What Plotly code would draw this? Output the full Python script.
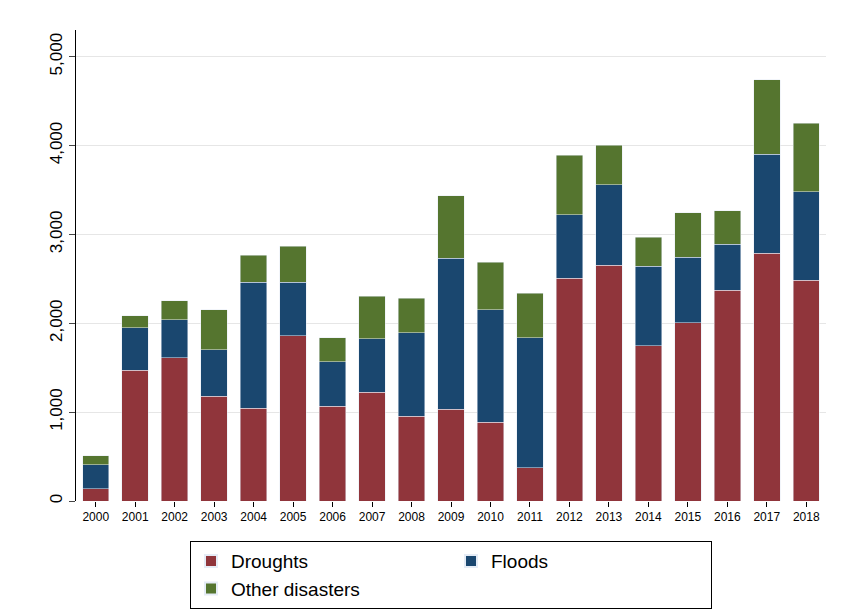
import plotly.graph_objects as go

years = [str(y) for y in range(2000, 2019)]
droughts = [136, 1474, 1610, 1179, 1043, 1859, 1066, 1224, 952, 1032, 884, 374,
            2506, 2653, 1746, 2007, 2370, 2789, 2483]
floods = [272, 476, 431, 521, 1417, 601, 499, 601, 941, 1700, 1270, 1463,
          714, 907, 896, 737, 521, 1111, 998]
other = [102, 136, 215, 454, 306, 408, 272, 477, 386, 703, 533, 499,
         669, 442, 328, 499, 374, 839, 771]

fig = go.Figure()
fig.add_trace(go.Bar(x=years, y=droughts, name="Droughts", marker_color="#90353B"))
fig.add_trace(go.Bar(x=years, y=floods, name="Floods", marker_color="#1A476F"))
fig.add_trace(go.Bar(x=years, y=other, name="Other disasters", marker_color="#55752F"))

fig.update_layout(
    barmode="stack",
    bargap=0.33,
    width=858, height=615,
    paper_bgcolor="white", plot_bgcolor="white",
    margin=dict(l=68, r=40, t=22, b=122),
    font=dict(family="Liberation Sans, Arial", color="black"),
    showlegend=True,
    legend=dict(
        orientation="h", x=0.5, xanchor="center", y=-0.085, yanchor="top",
        bordercolor="black", borderwidth=1, font=dict(size=19),
        entrywidth=215, traceorder="normal", itemsizing="constant",
    ),
    yaxis=dict(
        range=[0, 5300], tickvals=[0, 1000, 2000, 3000, 4000, 5000],
        tickformat=",", tickangle=-90, tickfont=dict(size=17),
        showgrid=True, gridcolor="#e6e6e6", showline=True, linecolor="black",
        ticks="outside", ticklen=6, zeroline=False,
    ),
    xaxis=dict(tickfont=dict(size=12), showline=False, ticks="outside",
               ticklen=5, tickcolor="black"),
)

fig.write_html("out.html")
